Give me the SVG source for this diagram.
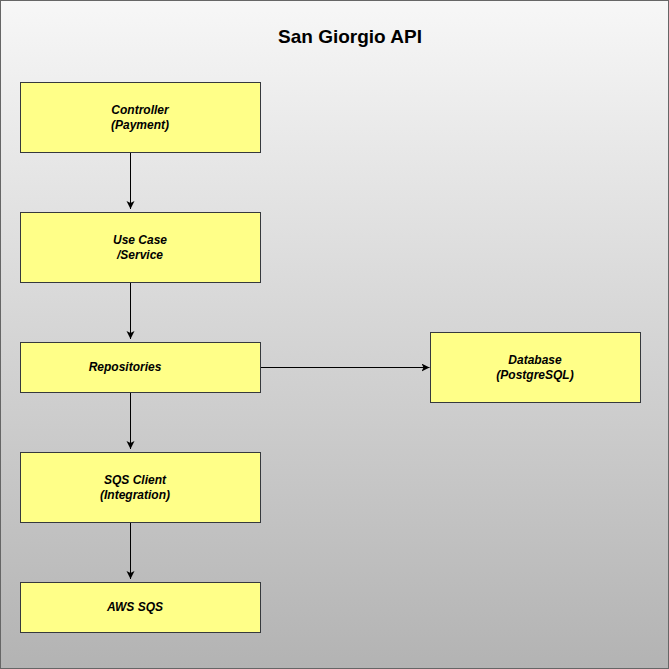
<svg xmlns="http://www.w3.org/2000/svg" width="669" height="669" viewBox="0 0 669 669">
<defs>
<linearGradient id="bg" x1="0" y1="0" x2="0" y2="1">
<stop offset="0" stop-color="#f7f7f7"/>
<stop offset="1" stop-color="#b3b3b3"/>
</linearGradient>
<marker id="ah" markerWidth="10" markerHeight="10" refX="8" refY="4" orient="auto" markerUnits="userSpaceOnUse">
<path d="M0,0 L8,4 L0,8 L2,4 Z" fill="#000"/>
</marker>
<style>
.box{fill:#ffff88;stroke:#36393d;stroke-width:1}
.lbl{font-family:"Liberation Sans",Arial,sans-serif;font-size:12px;font-weight:bold;font-style:italic;text-anchor:middle;fill:#000}
.conn{stroke:#000;stroke-width:1;fill:none;marker-end:url(#ah)}
</style>
</defs>
<rect x="0.5" y="0.5" width="668" height="668" fill="url(#bg)" stroke="#666666"/>
<text x="350" y="43" font-family="Liberation Sans, Arial, sans-serif" font-size="19" font-weight="bold" text-anchor="middle" fill="#000">San Giorgio API</text>
<g id="connectors">
<path class="conn" d="M130.5,152.5 V209"/>
<path class="conn" d="M130.5,282.5 V339"/>
<path class="conn" d="M130.5,392.5 V449"/>
<path class="conn" d="M130.5,522.5 V579"/>
<path class="conn" d="M260.5,367.5 H429.5"/>
</g>
<g id="controller">
<rect class="box" x="20.5" y="82.5" width="240" height="70"/>
<text class="lbl" x="140" y="114">Controller</text>
<text class="lbl" x="140" y="129">(Payment)</text>
</g>
<g id="usecase">
<rect class="box" x="20.5" y="212.5" width="240" height="70"/>
<text class="lbl" x="140" y="244">Use Case</text>
<text class="lbl" x="140" y="259">/Service</text>
</g>
<g id="repositories">
<rect class="box" x="20.5" y="342.5" width="240" height="50"/>
<text class="lbl" x="125" y="371">Repositories</text>
</g>
<g id="sqsclient">
<rect class="box" x="20.5" y="452.5" width="240" height="70"/>
<text class="lbl" x="135" y="484">SQS Client</text>
<text class="lbl" x="135" y="499">(Integration)</text>
</g>
<g id="awssqs">
<rect class="box" x="20.5" y="582.5" width="240" height="50"/>
<text class="lbl" x="135" y="611">AWS SQS</text>
</g>
<g id="database">
<rect class="box" x="430.5" y="332.5" width="210" height="70"/>
<text class="lbl" x="535" y="364">Database</text>
<text class="lbl" x="535" y="379">(PostgreSQL)</text>
</g>
</svg>
